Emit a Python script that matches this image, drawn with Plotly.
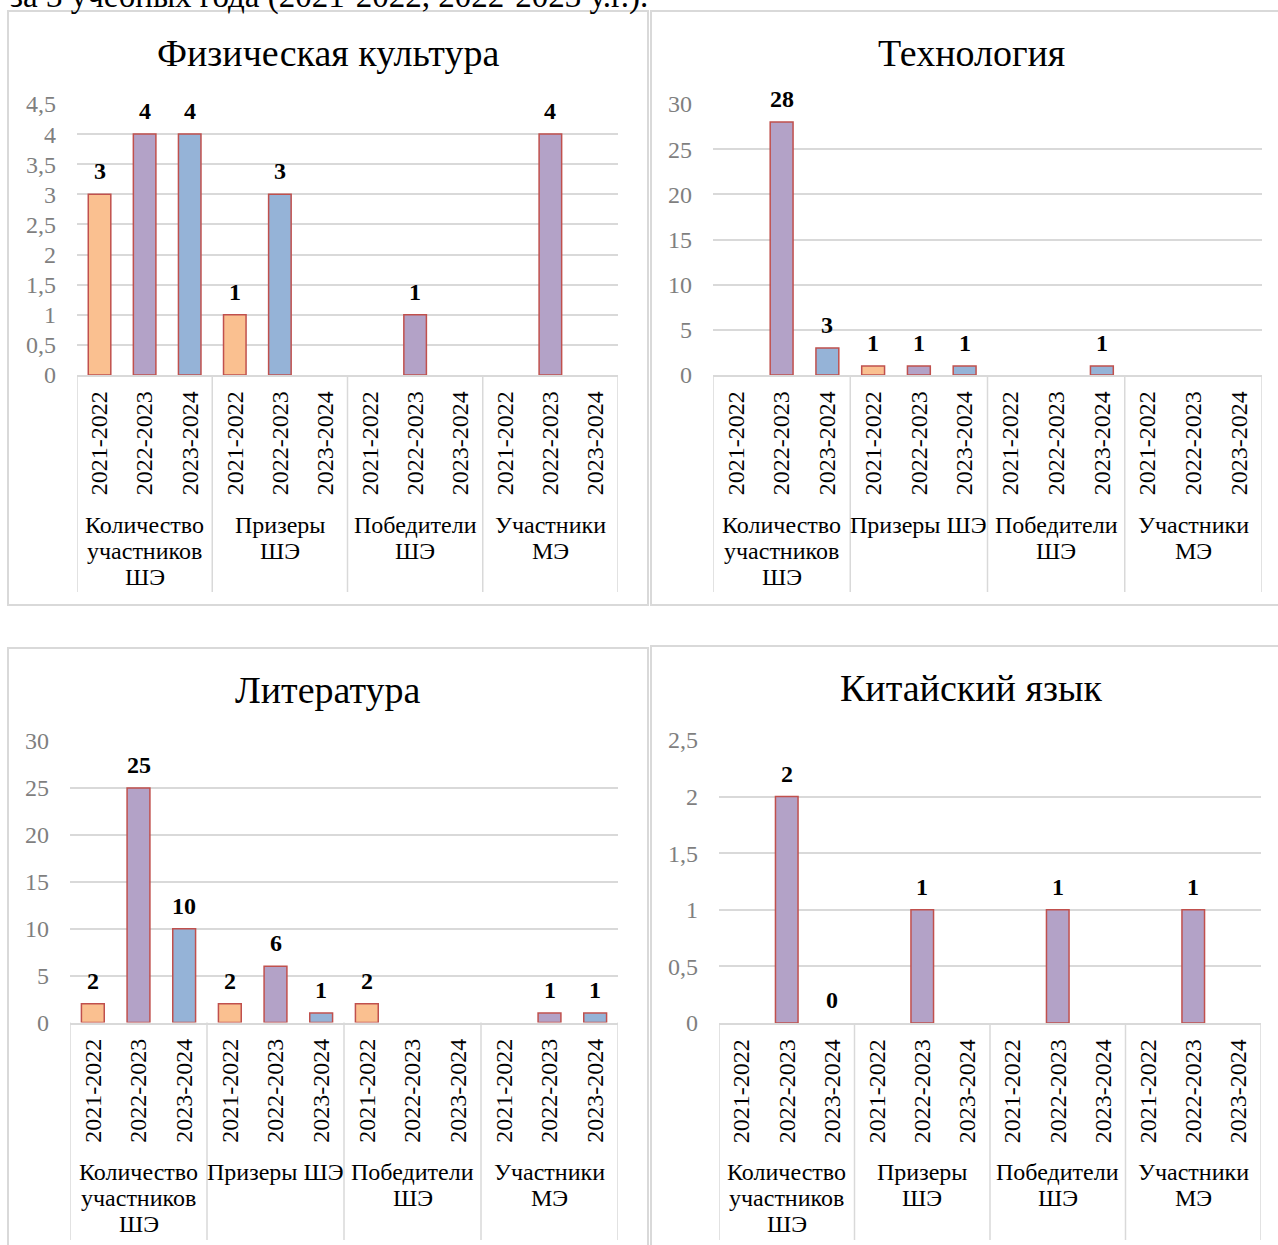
import plotly.graph_objects as go

W, H = 1278, 1245
SERIF = "Liberation Serif, Times New Roman, serif"

# ---------------- data ----------------
years = ["2021-2022", "2022-2023", "2023-2024"]

phys_title = "Физическая культура"
phys_groups = ["Количество\nучастников\nШЭ", "Призеры\nШЭ", "Победители\nШЭ", "Участники\nМЭ"]
phys_values = [3, 4, 4, 1, 3, None, None, 1, None, None, 4, None]

tech_title = "Технология"
tech_groups = ["Количество\nучастников\nШЭ", "Призеры ШЭ", "Победители\nШЭ", "Участники\nМЭ"]
tech_values = [None, 28, 3, 1, 1, 1, None, None, 1, None, None, None]

lit_title = "Литература"
lit_groups = ["Количество\nучастников\nШЭ", "Призеры ШЭ", "Победители\nШЭ", "Участники\nМЭ"]
lit_values = [2, 25, 10, 2, 6, 1, 2, None, None, None, 1, 1]

chin_title = "Китайский язык"
chin_groups = ["Количество\nучастников\nШЭ", "Призеры\nШЭ", "Победители\nШЭ", "Участники\nМЭ"]
chin_values = [None, 2, 0, None, 1, None, None, 1, None, None, 1, None]

caption_text = "за 3 учебных года (2021-2022, 2022-2023 у.г.)."

# ---------------- styles ----------------
ORANGE, PURPLE, BLUE = "#FAC090", "#B3A2C7", "#95B3D7"
year_colors = [ORANGE, PURPLE, BLUE] * 4
phys_colors = [ORANGE, PURPLE, BLUE, ORANGE, BLUE, BLUE, ORANGE, PURPLE, BLUE, ORANGE, PURPLE, BLUE]
OUTLINE = "#C0504D"
GRID = "#d9d9d9"
FS = 24


def px(x):
    return x / W


def py(y):
    return 1 - y / H


panels = [
    dict(title=phys_title, groups=phys_groups, values=phys_values, colors=phys_colors,
         ymax=4.5, dtick=0.5, x0=77, x1=618, y0=375, y1=104, title_x=328, title_y=53,
         group_y=525, sep_bottom=592, box=(8, 11, 648, 605)),
    dict(title=tech_title, groups=tech_groups, values=tech_values, colors=year_colors,
         ymax=30, dtick=5, x0=713, x1=1262, y0=375, y1=104, title_x=971, title_y=53,
         group_y=525, sep_bottom=592, box=(651, 11, 1300, 605)),
    dict(title=lit_title, groups=lit_groups, values=lit_values, colors=year_colors,
         ymax=30, dtick=5, x0=70, x1=618, y0=1022.5, y1=741, title_x=328, title_y=690,
         group_y=1172, sep_bottom=1240, box=(8, 648, 648, 1300)),
    dict(title=chin_title, groups=chin_groups, values=chin_values, colors=year_colors,
         ymax=2.5, dtick=0.5, x0=719, x1=1261, y0=1023, y1=740, title_x=971, title_y=688,
         group_y=1172, sep_bottom=1240, box=(651, 646, 1300, 1300)),
]

fig = go.Figure()
annotations = []
shapes = []
layout_axes = {}

for k, p in enumerate(panels):
    sfx = "" if k == 0 else str(k + 1)
    xname, yname = "x" + sfx, "y" + sfx
    cats = list(range(len(p["values"])))
    line_widths = [1.5 if v else 0 for v in p["values"]]

    fig.add_trace(go.Bar(
        x=cats, y=p["values"], xaxis=xname, yaxis=yname, width=0.5,
        marker=dict(color=p["colors"], line=dict(color=OUTLINE, width=line_widths)),
        hoverinfo="skip", showlegend=False,
    ))

    layout_axes["xaxis" + sfx] = dict(
        domain=[px(p["x0"]), px(p["x1"])], range=[-0.5, len(cats) - 0.5], anchor=yname,
        tickmode="array", tickvals=cats, ticktext=years * len(p["groups"]), tickangle=-90,
        tickfont=dict(family=SERIF, size=FS, color="black"), ticks="", ticklabelstandoff=5,
        showgrid=False, zeroline=False, showline=True, linecolor=GRID, linewidth=1.5,
        automargin=False, fixedrange=True,
    )
    layout_axes["yaxis" + sfx] = dict(
        domain=[py(p["y0"]), py(p["y1"])], range=[0, p["ymax"]], dtick=p["dtick"], anchor=xname,
        tickfont=dict(family=SERIF, size=FS, color="#7f7f7f"), ticks="", ticklabelstandoff=20,
        showgrid=True, gridcolor=GRID, gridwidth=1.5, zeroline=False, showline=False,
        automargin=False, fixedrange=True,
    )

    # panel frame
    bx0, by0, bx1, by1 = p["box"]
    shapes.append(dict(type="rect", xref="paper", yref="paper", x0=px(bx0), x1=px(bx1),
                       y0=py(by1), y1=py(by0), line=dict(color=GRID, width=2),
                       fillcolor="rgba(0,0,0,0)", layer="below"))

    # title
    annotations.append(dict(text=p["title"], xref="paper", yref="paper", x=px(p["title_x"]),
                            y=py(p["title_y"]), xanchor="center", yanchor="middle",
                            showarrow=False, font=dict(family=SERIF, size=38, color="black")))

    # data labels
    for i, v in enumerate(p["values"]):
        if v is None:
            continue
        annotations.append(dict(text="<b>%d</b>" % v, xref=xname, yref=yname, x=i, y=v,
                                yshift=23, xanchor="center", yanchor="middle", showarrow=False,
                                font=dict(family=SERIF, size=FS, color="black")))

    # group separators and labels
    n_groups = len(p["groups"])
    for g in range(n_groups + 1):
        b = g * 3 - 0.5
        shapes.append(dict(type="line", xref=xname, yref="paper", x0=b, x1=b,
                           y0=py(p["y0"]), y1=py(p["sep_bottom"]),
                           line=dict(color=GRID, width=1.5)))
    for g, label in enumerate(p["groups"]):
        for li, line in enumerate(label.split("\n")):
            annotations.append(dict(text=line, xref=xname, yref="paper", x=g * 3 + 1,
                                    y=py(p["group_y"] + 26 * li), xanchor="center",
                                    yanchor="middle", showarrow=False,
                                    font=dict(family=SERIF, size=FS, color="black")))

# caption of the page, cut off at the top edge as in the source
annotations.append(dict(text=caption_text, xref="paper", yref="paper", x=px(8), y=py(-3),
                        xanchor="left", yanchor="middle", showarrow=False,
                        font=dict(family=SERIF, size=33, color="black")))

fig.update_layout(
    width=W, height=H, margin=dict(l=0, r=0, t=0, b=0, autoexpand=False),
    paper_bgcolor="white", plot_bgcolor="white",
    font=dict(family=SERIF), separators=", ",
    showlegend=False, bargap=0.5,
    annotations=annotations, shapes=shapes,
    **layout_axes,
)

fig.write_html("out.html", config={"displayModeBar": False},
               post_script="document.body.style.margin='0';")
